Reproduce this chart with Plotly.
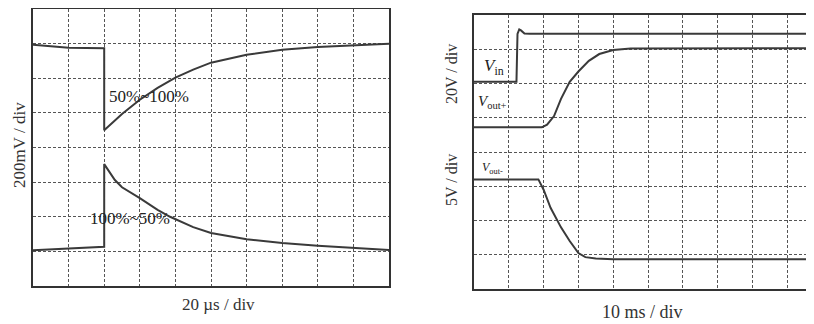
import plotly.graph_objects as go

# ---- Left panel data (divisions) ----
up_x = [0, 1, 2, 2, 2.5, 3, 3.5, 4, 4.5, 5, 6, 7, 8, 9, 10]
up_y = [6.97, 6.88, 6.87, 4.5, 4.97, 5.38, 5.72, 6.02, 6.25, 6.45, 6.68, 6.82, 6.9, 6.96, 7.0]
dn_x = [0, 1, 2, 2, 2.3, 2.5, 3, 3.5, 3.85, 4.5, 5, 6, 7, 8, 9, 10]
dn_y = [1.03, 1.07, 1.13, 3.52, 3.06, 2.85, 2.54, 2.2, 2.0, 1.7, 1.53, 1.35, 1.24, 1.16, 1.09, 1.04]

# ---- Right panel data (divisions) ----
vin_x = [0, 1.22, 1.25, 1.3, 1.35, 1.45, 1.6, 9.8]
vin_y = [6.05, 6.05, 7.45, 7.58, 7.55, 7.46, 7.45, 7.45]
vp_x = [0, 1.95, 2.1, 2.3, 2.5, 2.75, 3.0, 3.3, 3.6, 4.0, 4.5, 9.8]
vp_y = [4.72, 4.72, 4.8, 5.05, 5.55, 6.05, 6.35, 6.66, 6.86, 6.98, 7.02, 7.03]
vm_x = [0, 1.85, 2.0, 2.2, 2.5, 2.75, 3.0, 3.2, 3.5, 4.0, 9.8]
vm_y = [3.2, 3.2, 2.9, 2.37, 1.8, 1.4, 1.05, 0.93, 0.89, 0.87, 0.87]

# page body has an 8px default margin: size the figure to fill the rest of the window
OFF = 8
W, H = 814 - OFF, 324 - OFF
SERIF = "Liberation Serif, Times New Roman, serif"
TRACE = "#3a3a3a"
GRID = "#555555"

def px(x):
    return (x - OFF) / W

def py(y):
    return 1 - (y - OFF) / H

fig = go.Figure()
line = dict(color=TRACE, width=2)
fig.add_trace(go.Scatter(x=up_x, y=up_y, mode="lines", line=line, xaxis="x", yaxis="y"))
fig.add_trace(go.Scatter(x=dn_x, y=dn_y, mode="lines", line=line, xaxis="x", yaxis="y"))
fig.add_trace(go.Scatter(x=vin_x, y=vin_y, mode="lines", line=line, xaxis="x2", yaxis="y2"))
fig.add_trace(go.Scatter(x=vp_x, y=vp_y, mode="lines", line=line, xaxis="x2", yaxis="y2"))
fig.add_trace(go.Scatter(x=vm_x, y=vm_y, mode="lines", line=line, xaxis="x2", yaxis="y2"))

def ax(rng, dom, anchor, mirror=True):
    return dict(range=rng, domain=dom, anchor=anchor, dtick=1, tick0=0,
                showgrid=True, gridcolor=GRID, gridwidth=1.4, griddash="3px,2px",
                zeroline=False, showticklabels=False, ticks="",
                showline=True, linecolor="#333", linewidth=2, mirror=mirror,
                fixedrange=True)

fig.update_layout(
    width=W, height=H, margin=dict(l=0, r=0, t=0, b=0),
    paper_bgcolor="white", plot_bgcolor="white", showlegend=False,
    xaxis=ax([0, 10], [px(33), px(389)], "y"),
    yaxis=ax([0, 8], [py(286), py(9)], "x"),
    xaxis2=ax([0, (814 - 474) / 34.8], [px(474), 1.0], "y2"),
    yaxis2=ax([0, 8], [py(289), py(15)], "x2", mirror=False),
)

def ann(text, x, y, size=14, angle=0, color="#222"):
    fig.add_annotation(text=text, x=px(x), y=py(y), xref="paper", yref="paper",
                       showarrow=False, textangle=angle, xanchor="center",
                       yanchor="middle",
                       font=dict(family=SERIF, size=size, color=color))

# axis titles (reference pixel positions)
ann("200mV / div", 19, 145, size=17, angle=-90, color="#333")
ann("20 µs / div", 219, 304, size=17, color="#333")
ann("20V / div", 451, 74, size=16, angle=-90, color="#333")
ann("5V / div", 451, 180, size=16, angle=-90, color="#333")
ann("10 ms / div", 642, 312, size=18, color="#333")

# curve labels
ann("50%~100%", 149, 97, size=17)
ann("100%~50%", 130, 218, size=17)
ann("<i>V</i><sub>in</sub>", 494, 67, size=17)
ann("<i>V</i><sub>out+</sub>", 492, 102, size=15)
ann("<i>V</i><sub>out-</sub>", 493, 168, size=12)

fig.write_html("out.html")
